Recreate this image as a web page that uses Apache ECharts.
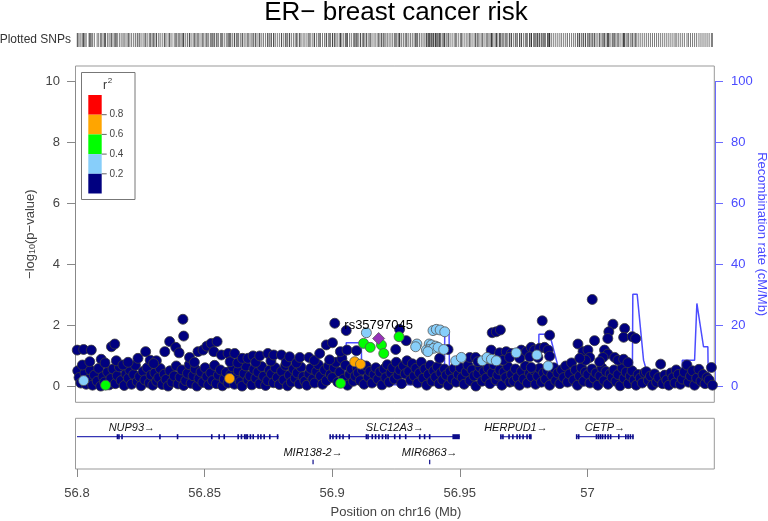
<!DOCTYPE html>
<html><head><meta charset="utf-8">
<script src="https://cdn.jsdelivr.net/npm/echarts@6/dist/echarts.min.js"></script>
<style>html,body{margin:0;padding:0;background:#fff}#c{width:768px;height:521px}</style>
</head><body><div id="c"></div>
<script>
const FONT = '"Liberation Sans", Arial, sans-serif';
const chartTitle = 'ER\u2212 breast cancer risk';
const xTicks = [56.8, 56.85, 56.9, 56.95, 57];
const xMin = 56.8, xMax = 57.05;
const r2Breaks = ['0.8', '0.6', '0.4', '0.2'];
const r2Colors = ['#FF0000', '#FFA500', '#00FF00', '#87CEFA', '#000080'];
const indexName = 'rs35797045';

// SNPs with r2 < 0.2 (position Mb, -log10 p)
const navyBase = [
[56.8003,0.52],[56.8008,0.30],[56.8015,0.12],[56.8031,0.45],[56.8036,0.08],[56.8047,0.25],[56.8052,0.55],[56.8061,0.05],[56.8068,0.38],[56.8079,0.18],[56.8085,0.60],[56.8093,0.02],
[56.8102,0.33],[56.8108,0.15],[56.8120,0.48],[56.8126,0.06],[56.8133,0.27],[56.8141,0.58],[56.8150,0.10],[56.8158,0.36],[56.8166,0.65],[56.8173,0.20],[56.8185,0.04],[56.8192,0.42],
[56.8201,0.28],[56.8207,0.55],[56.8214,0.08],[56.8222,0.40],[56.8229,0.70],[56.8236,0.17],[56.8245,0.33],[56.8251,0.03],[56.8259,0.50],[56.8266,0.22],[56.8275,0.62],[56.8283,0.12],[56.8290,0.38],[56.8297,0.05],
[56.8305,0.45],[56.8312,0.18],[56.8320,0.30],[56.8326,0.60],[56.8334,0.07],[56.8342,0.41],[56.8349,0.24],[56.8357,0.02],[56.8364,0.52],[56.8372,0.15],[56.8381,0.35],[56.8389,0.68],[56.8396,0.09],
[56.8404,0.31],[56.8411,0.55],[56.8418,0.04],[56.8426,0.20],[56.8433,0.44],[56.8440,0.72],[56.8447,0.11],[56.8455,0.36],[56.8463,0.58],[56.8470,0.02],[56.8478,0.27],[56.8486,0.48],[56.8493,0.14],
[56.8502,0.62],[56.8509,0.33],[56.8516,0.06],[56.8524,0.45],[56.8531,0.20],[56.8539,0.70],[56.8546,0.10],[56.8554,0.38],[56.8562,0.55],[56.8570,0.03],[56.8577,0.25],[56.8585,0.47],[56.8592,0.12],
[56.8603,0.40],[56.8610,0.65],[56.8617,0.08],[56.8625,0.30],[56.8632,0.52],[56.8640,0.16],[56.8647,0.02],[56.8655,0.43],[56.8662,0.68],[56.8670,0.22],[56.8678,0.35],[56.8685,0.06],[56.8693,0.57],
[56.8701,0.28],[56.8709,0.48],[56.8716,0.10],[56.8724,0.66],[56.8731,0.34],[56.8739,0.04],[56.8747,0.20],[56.8754,0.54],[56.8762,0.42],[56.8770,0.13],[56.8777,0.62],[56.8785,0.30],[56.8793,0.07],
[56.8802,0.50],[56.8810,0.22],[56.8817,0.70],[56.8825,0.03],[56.8832,0.38],[56.8840,0.15],[56.8848,0.58],[56.8855,0.28],[56.8863,0.45],[56.8871,0.09],[56.8878,0.64],[56.8886,0.33],[56.8893,0.18],
[56.8901,0.05],[56.8909,0.42],[56.8916,0.60],[56.8924,0.25],[56.8931,0.12],[56.8939,0.50],[56.8946,0.72],[56.8954,0.35],[56.8962,0.08],[56.8970,0.55],[56.8977,0.20],[56.8985,0.68],[56.8993,0.40],
[56.9001,0.30],[56.9008,0.62],[56.9015,0.80],[56.9022,0.15],[56.9030,0.48],[56.9038,0.92],[56.9045,0.25],[56.9052,0.70],[56.9060,0.05],[56.9068,0.40],[56.9075,0.58],[56.9083,0.18],[56.9090,0.35],[56.9098,0.62],
[56.9102,0.45],[56.9110,0.20],[56.9118,0.55],[56.9125,0.08],[56.9133,0.68],[56.9141,0.32],[56.9148,0.50],[56.9156,0.12],[56.9164,0.40],[56.9171,0.62],[56.9179,0.25],[56.9187,0.48],[56.9195,0.06],
[56.9203,0.58],[56.9210,0.30],[56.9216,0.72],[56.9223,0.15],[56.9230,0.45],[56.9237,0.62],[56.9244,0.25],[56.9251,0.80],[56.9258,0.38],[56.9265,0.55],[56.9272,0.10],[56.9279,0.68],[56.9286,0.42],[56.9293,0.85],
[56.9300,0.50],[56.9307,0.22],[56.9314,0.75],[56.9321,0.35],[56.9328,0.60],[56.9335,0.12],[56.9342,0.45],[56.9349,0.80],[56.9356,0.28],[56.9363,0.58],[56.9370,0.05],[56.9377,0.40],[56.9384,0.70],[56.9391,0.18],[56.9398,0.52],
[56.9405,0.32],[56.9412,0.65],[56.9419,0.10],[56.9426,0.45],[56.9433,0.22],[56.9440,0.58],[56.9447,0.38],[56.9455,0.05],[56.9462,0.50],[56.9470,0.25],[56.9478,0.60],[56.9486,0.15],[56.9494,0.40],
[56.9502,0.62],[56.9509,0.30],[56.9517,0.08],[56.9525,0.48],[56.9532,0.70],[56.9540,0.20],[56.9548,0.55],[56.9556,0.35],[56.9563,0.02],[56.9571,0.42],[56.9579,0.65],[56.9587,0.18],[56.9595,0.50],
[56.9603,0.28],[56.9611,0.60],[56.9618,0.10],[56.9626,0.45],[56.9634,0.72],[56.9642,0.22],[56.9649,0.38],[56.9657,0.55],[56.9665,0.05],[56.9673,0.48],[56.9680,0.30],[56.9688,0.66],[56.9696,0.15],
[56.9703,0.40],[56.9711,0.18],[56.9718,0.58],[56.9726,0.30],[56.9734,0.05],[56.9742,0.50],[56.9750,0.25],[56.9757,0.68],[56.9765,0.12],[56.9773,0.44],[56.9781,0.33],[56.9789,0.55],[56.9797,0.08],
[56.9805,0.35],[56.9813,0.60],[56.9820,0.15],[56.9828,0.45],[56.9836,0.25],[56.9844,0.52],[56.9852,0.05],[56.9860,0.38],[56.9868,0.62],[56.9876,0.20],[56.9884,0.45],[56.9892,0.10],[56.9899,0.55],
[56.9907,0.30],[56.9915,0.68],[56.9922,0.15],[56.9930,0.42],[56.9938,0.78],[56.9946,0.22],[56.9953,0.55],[56.9961,0.05],[56.9969,0.35],[56.9977,0.62],[56.9985,0.18],[56.9992,0.48],
[57.0002,0.40],[57.0010,0.12],[57.0018,0.58],[57.0026,0.28],[57.0034,0.45],[57.0041,0.05],[57.0049,0.35],[57.0057,0.62],[57.0065,0.20],[57.0073,0.50],[57.0081,0.08],[57.0089,0.42],[57.0097,0.30],
[57.0104,0.55],[57.0112,0.18],[57.0120,0.40],[57.0128,0.03],[57.0136,0.62],[57.0144,0.28],[57.0152,0.48],[57.0160,0.10],[57.0168,0.35],[57.0175,0.52],[57.0183,0.22],[57.0191,0.05],[57.0199,0.40],
[57.0207,0.28],[57.0215,0.12],[57.0223,0.45],[57.0231,0.49],[57.0239,0.20],[57.0247,0.35],[57.0255,0.05],[57.0263,0.42],[57.0271,0.15],[57.0279,0.30],[57.0287,0.74],[57.0295,0.10],
[57.0303,0.38],[57.0311,0.22],[57.0319,0.05],[57.0327,0.45],[57.0335,0.30],[57.0343,0.12],[57.0348,0.55],[57.0356,0.40],[57.0364,0.08],[57.0372,0.25],[57.0380,0.48],[57.0390,0.71],[57.0396,0.15],
[57.0404,0.35],[57.0412,0.52],[57.0420,0.05],[57.0428,0.28],[57.0437,0.57],[57.0445,0.18],[57.0453,0.40],[57.0461,0.10],[57.0469,0.30],[57.0477,0.22],[57.0486,0.63],[57.0490,0.05]
];
const navyUpper = [
[56.8001,1.20],[56.8026,1.22],[56.8056,1.20],[56.8021,0.71],[56.8095,0.90],[56.8135,1.31],[56.8148,1.40],[56.8154,0.85],[56.8180,0.71],[56.8050,0.82],[56.8110,0.78],[56.8200,0.80],
[56.8239,0.93],[56.8269,1.15],[56.8287,0.87],[56.8311,0.85],[56.8300,0.76],[56.8344,1.15],[56.8363,1.48],[56.8387,1.29],[56.8400,1.11],[56.8415,2.21],[56.8418,1.66],[56.8441,0.96],[56.8460,0.80],
[56.8474,1.15],[56.8494,1.20],[56.8509,1.33],[56.8526,1.42],[56.8536,1.15],[56.8549,1.48],[56.8566,1.04],[56.8592,1.09],[56.8600,0.82],[56.8618,1.09],[56.8630,0.78],[56.8648,0.93],[56.8670,0.93],
[56.8690,1.01],[56.8700,0.80],[56.8716,1.01],[56.8748,1.09],[56.8760,0.84],[56.8771,1.04],[56.8801,1.04],[56.8820,0.80],[56.8833,0.98],[56.8860,0.78],[56.8873,0.96],[56.8909,0.96],[56.8930,0.86],
[56.8951,1.09],[56.8977,1.37],[56.8990,0.88],[56.9001,1.44],[56.9010,2.08],[56.9032,1.15],[56.9055,1.84],[56.9058,1.20],[56.9095,1.18],[56.9249,1.22],[56.9264,1.88],[56.9290,1.51],
[56.9454,1.22],[56.9421,0.93],[56.9539,0.96],[56.9562,0.96],[56.9571,0.82],
[56.9623,1.20],[56.9656,1.11],[56.9682,1.15],[56.9702,1.09],[56.9741,1.20],[56.9761,1.15],[56.9780,1.29],[56.9793,1.20],[56.9813,1.26],[56.9832,1.29],[56.9846,1.20],
[56.9774,0.98],[56.9735,0.93],[56.9669,0.87],[56.9695,0.96],[56.9806,0.96],[56.9852,1.00],[56.9780,0.63],
[56.9627,1.77],[56.9643,1.80],[56.9659,1.86],[56.9823,2.16],[56.9852,1.69],
[56.9963,1.40],[57.0028,1.51],[57.0019,2.86],[57.0100,2.05],[57.0084,1.80],[57.0080,1.58],[57.0146,1.91],[57.0142,1.62],[57.0176,1.64],[57.0189,1.58],
[56.9983,1.15],[57.0002,1.20],[57.0009,0.96],[56.9993,0.87],[56.9970,0.93],[57.0067,1.20],[57.0080,1.07],[57.0107,0.96],[57.0061,0.96],[57.0048,0.82],[57.0120,0.87],[57.0142,0.90],[57.0159,0.79]
];
const lightBlueSnps = [
[56.8026,0.20],[56.9134,1.77],[56.9395,1.84],[56.9408,1.88],[56.9423,1.86],[56.9441,1.80],[56.9332,1.40],[56.9327,1.31],
[56.9380,1.40],[56.9389,1.37],[56.9405,1.33],[56.9369,1.20],[56.9382,1.22],[56.9398,1.26],[56.9415,1.29],[56.9437,1.22],[56.9375,1.15],
[56.9484,0.85],[56.9506,0.96],[56.9588,0.85],[56.9607,0.96],[56.9624,0.90],[56.9643,0.85],[56.9721,1.11],[56.9802,1.04],[56.9846,0.68]
];
const greenSnps = [[56.8112,0.05],[56.9033,0.11],[56.9123,1.42],[56.9149,1.29],[56.9193,1.37],[56.9202,1.09],[56.9262,1.64]];
const orangeSnps = [[56.8598,0.27],[56.9088,0.82],[56.9111,0.74]];
const indexSnp = [[56.9182,1.58]];

// Recombination rate (cM/Mb)
const recombRate = [
[56.8000,0.3],[56.8170,0.3],[56.8175,0.6],[56.8600,0.6],[56.8605,1.0],[56.8950,1.0],[56.8955,2.0],[56.9054,2.0],[56.9055,14.4],
[56.9114,14.4],[56.9115,8.5],[56.9125,8.5],[56.9127,0.6],[56.9350,0.6],[56.9352,5.0],[56.9440,5.0],[56.9441,17.5],[56.9458,17.5],
[56.9460,0.5],[56.9808,0.5],[56.9810,17.2],[56.9852,17.2],[56.9885,6.6],[56.9900,0.4],[57.0176,0.4],[57.0178,30.3],[57.0195,30.3],
[57.0220,8.7],[57.0231,5.5],[57.0245,0.5],[57.0370,0.5],[57.0372,8.7],[57.0420,8.7],[57.0429,27.3],[57.0455,13.1],[57.0472,13.1],
[57.0474,0.3],[57.0500,0.3]
];

// Genes
const geneNames = ['NUP93', 'SLC12A3', 'HERPUD1', 'CETP', 'MIR138-2', 'MIR6863'];
const geneStart = [56.7640, 56.8991, 56.9660, 56.9957, 56.8925, 56.9382];
const geneEnd   = [56.8790, 56.9500, 56.9780, 57.0181, 56.8925, 56.9382];
const geneRow   = [0, 0, 0, 0, 1, 1];
const geneExons = [
  [[56.8157,56.8160],[56.8163,56.8166],[56.8175,56.8178],[56.8324,56.8326],[56.8393,56.8395],[56.8527,56.8529],[56.8556,56.8558],[56.8576,56.8578],[56.8630,56.8633],[56.8643,56.8646],[56.8655,56.8659],[56.8661,56.8664],[56.8666,56.8669],[56.8678,56.8681],[56.8689,56.8692],[56.8708,56.8711],[56.8719,56.8722],[56.8732,56.8735],[56.8754,56.8757],[56.8784,56.8788]],
  [[56.8991,56.8993],[56.9002,56.9004],[56.9015,56.9018],[56.9028,56.9031],[56.9041,56.9044],[56.9065,56.9068],[56.9132,56.9136],[56.9139,56.9142],[56.9156,56.9158],[56.9169,56.9171],[56.9182,56.9184],[56.9196,56.9198],[56.9209,56.9211],[56.9218,56.9220],[56.9244,56.9246],[56.9264,56.9266],[56.9287,56.9289],[56.9342,56.9344],[56.9361,56.9363],[56.9381,56.9383],[56.9471,56.9500]],
  [[56.9660,56.9662],[56.9668,56.9670],[56.9692,56.9694],[56.9707,56.9709],[56.9723,56.9726],[56.9734,56.9736],[56.9747,56.9749],[56.9762,56.9765],[56.9773,56.9775],[56.9777,56.9780]],
  [[56.9957,56.9959],[56.9965,56.9967],[57.0034,57.0037],[57.0042,57.0045],[57.0050,57.0053],[57.0058,57.0061],[57.0069,57.0071],[57.0080,57.0082],[57.0090,57.0092],[57.0122,57.0124],[57.0149,57.0152],[57.0158,57.0161],[57.0167,57.0170],[57.0176,57.0181]],
  [[56.8925,56.8925]],
  [[56.9382,56.9382]]
];

const allSnps = [].concat(navyBase, navyUpper, lightBlueSnps, greenSnps, orangeSnps, indexSnp);
const rugData = allSnps.map(d => [d[0], 0.5]);

const chart = echarts.init(document.getElementById('c'), null, {renderer: 'canvas'});

function renderGene(params, api) {
  const i = api.value(2);
  const cs = params.coordSys;
  const row = geneRow[i];
  const yLine = cs.y + (row === 0 ? 18.4 : 43.7);
  const children = [];
  const xs = api.coord([geneStart[i], 0])[0];
  const xe = api.coord([geneEnd[i], 0])[0];
  const x1 = Math.max(xs, cs.x), x2 = Math.min(xe, cs.x + cs.width);
  if (x2 - x1 > 1) {
    children.push({type: 'line', shape: {x1: x1, y1: yLine, x2: x2, y2: yLine},
      style: {stroke: '#3535b5', lineWidth: 1.2}});
  }
  const h = row === 0 ? 5 : 4.5;
  geneExons[i].forEach(function (e) {
    const a = api.coord([e[0], 0])[0], b = api.coord([e[1], 0])[0];
    let w = b - a, x = a;
    if (w < 1.6) { x = (a + b) / 2 - 0.8; w = 1.6; }
    if (row === 1) { x = (a + b) / 2 - 0.6; w = 1.2; }
    children.push({type: 'rect', shape: {x: x, y: yLine - h / 2, width: w, height: h},
      style: {fill: '#0c0c8a'}});
  });
  const cx = api.coord([(geneStart[i] + geneEnd[i]) / 2, 0])[0];
  children.push({type: 'text', style: {text: geneNames[i] + '\u2192', x: cx, y: yLine - 9,
    align: 'center', verticalAlign: 'middle', font: 'italic 11px ' + FONT, fill: '#151515'}});
  return {type: 'group', children: children};
}

const legendGraphics = [];
legendGraphics.push({type: 'rect', shape: {x: 81.5, y: 72.5, width: 53.5, height: 127}, style: {fill: 'none', stroke: '#777', lineWidth: 1}, z: 100});
legendGraphics.push({type: 'text', style: {text: 'r', x: 105, y: 86, align: 'center', verticalAlign: 'middle', font: '12px ' + FONT, fill: '#333'}, z: 100});
legendGraphics.push({type: 'text', style: {text: '2', x: 110, y: 81, align: 'center', verticalAlign: 'middle', font: '8px ' + FONT, fill: '#333'}, z: 100});
r2Colors.forEach(function (c, k) {
  legendGraphics.push({type: 'rect', shape: {x: 88.3, y: 95 + k * 19.7, width: 13.4, height: 19.7}, style: {fill: c}, z: 100});
});
r2Breaks.forEach(function (t, k) {
  const y = 114.7 + k * 19.7;
  legendGraphics.push({type: 'line', shape: {x1: 101.7, y1: y, x2: 106.7, y2: y}, style: {stroke: '#666', lineWidth: 1}, z: 100});
  legendGraphics.push({type: 'text', style: {text: t, x: 109.5, y: y, align: 'left', verticalAlign: 'middle', font: '10px ' + FONT, fill: '#444'}, z: 100});
});

const option = {
  animation: false,
  backgroundColor: '#fff',
  textStyle: {fontFamily: FONT},
  graphic: [
    {type: 'text', style: {text: chartTitle, x: 396, y: 13, align: 'center', verticalAlign: 'middle', font: '26px ' + FONT, fill: '#000'}},
    {type: 'text', style: {text: 'Plotted SNPs', x: 71, y: 40, align: 'right', verticalAlign: 'middle', font: '12px ' + FONT, fill: '#333'}},
    {type: 'rect', shape: {x: 75.5, y: 66, width: 638.8, height: 336.3}, style: {fill: 'none', stroke: '#999', lineWidth: 1}, z: -1},
    {type: 'rect', shape: {x: 75.5, y: 418.3, width: 638.8, height: 50.7}, style: {fill: 'none', stroke: '#999', lineWidth: 1}, z: -1}
  ].concat(legendGraphics),
  grid: [
    {left: 77, width: 638, top: 33, height: 14, containLabel: false, outerBoundsMode: 'none'},
    {left: 77, width: 638, top: 81.7, height: 305, containLabel: false, outerBoundsMode: 'none'},
    {left: 77, width: 638, top: 418.3, height: 50.7, containLabel: false, outerBoundsMode: 'none'}
  ],
  xAxis: [
    {gridIndex: 0, type: 'value', min: xMin, max: xMax, show: false},
    {gridIndex: 1, type: 'value', min: xMin, max: xMax, show: false},
    {gridIndex: 2, type: 'value', min: xMin, max: xMax,
      axisLine: {show: false},
      axisTick: {show: true, length: 8, customValues: xTicks, lineStyle: {color: '#888'}},
      axisLabel: {customValues: xTicks, color: '#444', fontSize: 13, margin: 18, fontFamily: FONT,
        formatter: function (v) { return String(Math.round(v * 100) / 100); }},
      splitLine: {show: false},
      name: 'Position on chr16 (Mb)', nameLocation: 'middle', nameGap: 37, nameMoveOverlap: false,
      nameTextStyle: {fontSize: 13, color: '#444', fontFamily: FONT}}
  ],
  yAxis: [
    {gridIndex: 0, type: 'value', min: 0, max: 1, show: false},
    {gridIndex: 1, type: 'value', min: 0, max: 10, interval: 2, position: 'left', offset: 2,
      axisLine: {show: true, lineStyle: {color: '#888'}},
      axisTick: {show: true, length: 8, lineStyle: {color: '#888'}},
      axisLabel: {color: '#444', fontSize: 13, margin: 15, fontFamily: FONT},
      splitLine: {show: false},
      name: '\u2212log{sub|10}(p\u2212value)', nameLocation: 'middle', nameGap: 38, nameMoveOverlap: false,
      nameTextStyle: {fontSize: 13, color: '#444', fontFamily: FONT,
        rich: {sub: {fontSize: 9, color: '#444', verticalAlign: 'bottom', fontFamily: FONT}}}},
    {gridIndex: 1, type: 'value', min: 0, max: 100, interval: 20, position: 'right',
      axisLine: {show: true, lineStyle: {color: '#6a6aff'}},
      axisTick: {show: true, length: 8, lineStyle: {color: '#6a6aff'}},
      axisLabel: {color: '#4a4aff', fontSize: 13, margin: 16, fontFamily: FONT},
      splitLine: {show: false},
      name: 'Recombination rate (cM/Mb)', nameLocation: 'middle', nameRotate: -90, nameGap: 40, nameMoveOverlap: false,
      nameTextStyle: {fontSize: 13, color: '#4a4aff', fontFamily: FONT}},
    {gridIndex: 2, type: 'value', min: 0, max: 1, show: false}
  ],
  series: [
    {type: 'scatter', xAxisIndex: 0, yAxisIndex: 0, data: rugData, symbol: 'rect', symbolSize: [1, 14],
      itemStyle: {color: 'rgba(20,20,20,0.7)'}, silent: true},
    {type: 'line', xAxisIndex: 1, yAxisIndex: 2, data: recombRate, showSymbol: false, z: 1,
      lineStyle: {color: 'rgba(45,45,255,0.85)', width: 1.5}},
    {type: 'scatter', xAxisIndex: 1, yAxisIndex: 1, data: navyBase.concat(navyUpper), symbolSize: 10, z: 3,
      itemStyle: {color: r2Colors[4], borderColor: '#3a3a3a', borderWidth: 0.8, opacity: 1}},
    {type: 'scatter', xAxisIndex: 1, yAxisIndex: 1, data: lightBlueSnps, symbolSize: 10, z: 4,
      itemStyle: {color: r2Colors[3], borderColor: '#555', borderWidth: 0.8, opacity: 1}},
    {type: 'scatter', xAxisIndex: 1, yAxisIndex: 1, data: greenSnps, symbolSize: 10, z: 5,
      itemStyle: {color: r2Colors[2], borderColor: '#555', borderWidth: 0.8, opacity: 1}},
    {type: 'scatter', xAxisIndex: 1, yAxisIndex: 1, data: orangeSnps, symbolSize: 10, z: 5,
      itemStyle: {color: r2Colors[1], borderColor: '#555', borderWidth: 0.8, opacity: 1}},
    {type: 'scatter', xAxisIndex: 1, yAxisIndex: 1, data: indexSnp, symbol: 'diamond', symbolSize: 12, z: 6,
      itemStyle: {color: '#9632B8', borderColor: '#555', borderWidth: 0.8, opacity: 1},
      label: {show: true, position: 'top', distance: 0, formatter: indexName, color: '#000', fontSize: 13, fontFamily: FONT}},
    {type: 'custom', xAxisIndex: 2, yAxisIndex: 3, renderItem: renderGene,
      data: geneNames.map(function (n, i) { return [(geneStart[i] + geneEnd[i]) / 2, 0.5, i]; }),
      encode: {x: 0, y: 1}, silent: true}
  ]
};
chart.setOption(option);
</script>
</body></html>
